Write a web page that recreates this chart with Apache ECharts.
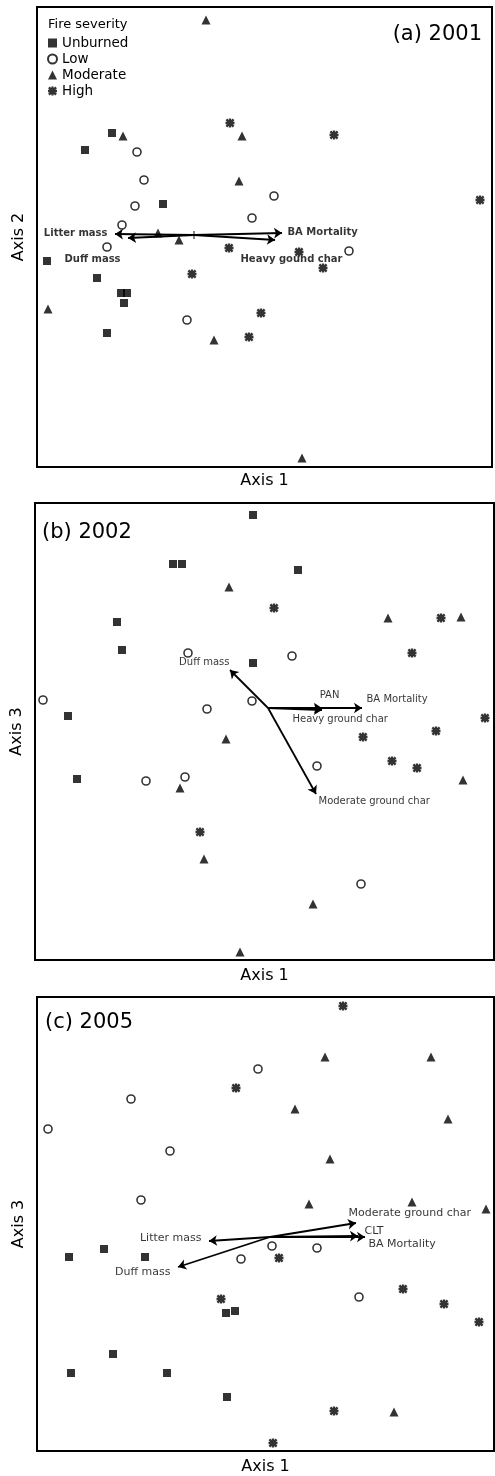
<!DOCTYPE html>
<html><head><meta charset="utf-8">
<script src="https://cdn.jsdelivr.net/npm/echarts@6/dist/echarts.min.js"></script>
<style>html,body{margin:0;padding:0;background:#fff}#c{width:495px;height:1476px}</style>
</head><body><div id="c"></div>
<script>
// ---------- data (ordination scores, arbitrary units) ----------
const severities = ['Unburned', 'Low', 'Moderate', 'High'];

// (a) 2001 : Axis 1 vs Axis 2
const unburned2001 = [[-0.82,1.02],[-1.09,0.85],[-0.31,0.31],[-1.47,-0.26],[-0.97,-0.43],[-0.73,-0.58],[-0.67,-0.58],[-0.70,-0.68],[-0.87,-0.98]];
const low2001 = [[-0.57,0.83],[-0.50,0.55],[0.80,0.39],[-0.59,0.29],[0.58,0.17],[-0.72,0.10],[-0.87,-0.12],[1.55,-0.16],[-0.07,-0.85]];
const moderate2001 = [[0.12,2.15],[-0.71,0.99],[0.48,0.99],[0.45,0.54],[-0.36,0.02],[-0.15,-0.05],[-1.46,-0.74],[0.20,-1.05],[1.08,-2.23]];
const high2001 = [[0.36,1.12],[1.40,1.00],[2.86,0.35],[0.35,-0.13],[1.05,-0.17],[1.29,-0.33],[-0.02,-0.39],[0.67,-0.78],[0.55,-1.02]];
const loadNames2001 = ['Litter mass','Duff mass','BA Mortality','Heavy gound char'];
const loadings2001 = [[-0.79,0.01],[-0.66,-0.03],[0.88,0.02],[0.81,-0.05]];
const origin2001 = [[0,0]];

// (b) 2002 : Axis 1 vs Axis 3
const unburned2002 = [[-0.15,1.93],[-0.95,1.44],[-0.86,1.44],[0.30,1.38],[-1.51,0.86],[-1.46,0.58],[-0.15,0.45],[-2.00,-0.08],[-1.91,-0.71]];
const low2002 = [[-0.80,0.55],[0.24,0.52],[-2.25,0.08],[-0.16,0.07],[-0.61,-0.01],[0.49,-0.58],[-1.22,-0.73],[-0.83,-0.69],[0.93,-1.76]];
const moderate2002 = [[-0.39,1.21],[1.20,0.90],[1.93,0.91],[-0.42,-0.31],[-0.88,-0.80],[1.95,-0.72],[-0.64,-1.51],[0.45,-1.96],[-0.28,-2.44]];
const high2002 = [[0.06,1.00],[1.73,0.90],[1.44,0.55],[2.17,-0.10],[1.68,-0.23],[0.95,-0.29],[1.24,-0.53],[1.49,-0.60],[-0.68,-1.24]];
const loadNames2002 = ['Duff mass','PAN','Heavy ground char','BA Mortality','Moderate ground char'];
const loadings2002 = [[-0.38,0.38],[0.54,0.00],[0.54,-0.02],[0.94,0.00],[0.48,-0.86]];

// (c) 2005 : Axis 1 vs Axis 3
const unburned2005 = [[-2.01,-0.20],[-1.66,-0.12],[-1.25,-0.20],[-0.44,-0.76],[-0.35,-0.74],[-1.57,-1.17],[-1.99,-1.36],[-1.03,-1.36],[-0.43,-1.60]];
const low2005 = [[-0.12,1.68],[-1.39,1.38],[-2.22,1.08],[-1.00,0.86],[-1.29,0.37],[0.02,-0.09],[0.47,-0.11],[-0.29,-0.22],[0.89,-0.60]];
const moderate2005 = [[0.55,1.80],[1.61,1.80],[0.25,1.28],[1.78,1.18],[0.60,0.78],[0.39,0.33],[1.42,0.35],[2.16,0.28],[1.24,-1.75]];
const high2005 = [[0.73,2.31],[-0.34,1.49],[0.09,-0.21],[1.33,-0.52],[-0.49,-0.62],[1.74,-0.67],[2.09,-0.85],[0.64,-1.74],[0.03,-2.06]];
const loadNames2005 = ['Moderate ground char','CLT','BA Mortality','Litter mass','Duff mass'];
const loadings2005 = [[0.86,0.14],[0.88,0.01],[0.95,0.00],[-0.61,-0.04],[-0.92,-0.30]];

const panelTitles = ['(a) 2001','(b) 2002','(c) 2005'];
const yAxisNames = ['Axis 2','Axis 3','Axis 3'];
const xAxisName = 'Axis 1';
const legendTitle = 'Fire severity';

// ---------- layout / style ----------
const FONT = '"DejaVu Sans", Arial, sans-serif';
const grids = [
  {left:37, top:7,   width:455, height:460},
  {left:35, top:503, width:459, height:457},
  {left:37, top:997, width:457, height:454}
];
const ranges = [
  {x:[-1.57,2.98], y:[-2.32,2.28]},
  {x:[-2.33,2.26], y:[-2.52,2.05]},
  {x:[-2.33,2.24], y:[-2.14,2.40]}
];
const xNameGap = [6, 8, 8];
const starPath = 'path://M3.7,0 L6.3,0 L6.3,10 L3.7,10 Z M0,3.7 L10,3.7 L10,6.3 L0,6.3 Z M1.9,0.1 L9.9,8.1 L8.1,9.9 L0.1,1.9 Z M8.1,0.1 L9.9,1.9 L1.9,9.9 L0.1,8.1 Z';
const sevStyle = {
  Unburned: {symbol:'rect', symbolSize:8, itemStyle:{color:'#000'}},
  Low:      {symbol:'circle', symbolSize:8, itemStyle:{color:'#fff', borderColor:'#000', borderWidth:1.6}},
  Moderate: {symbol:'triangle', symbolSize:9, itemStyle:{color:'#000'}},
  High:     {symbol:starPath, symbolSize:9, itemStyle:{color:'#000'}}
};
const labelLayouts = [
  [{align:'right',dx:-7,dy:0},{align:'left',dx:-63,dy:22},{align:'left',dx:6,dy:0},{align:'left',dx:-34,dy:20}],
  [{align:'right',dx:0,dy:-7},{align:'center',dx:8,dy:-12},{align:'left',dx:-29,dy:10},{align:'left',dx:5,dy:-8},{align:'left',dx:3,dy:8}],
  [{align:'left',dx:-7,dy:-9},{align:'left',dx:7,dy:-4},{align:'left',dx:4,dy:8},{align:'right',dx:-7,dy:-2},{align:'right',dx:-7,dy:6}]
];
const labelFont = [
  {fontSize:10, fontWeight:'bold'},
  {fontSize:10, fontWeight:'normal'},
  {fontSize:11, fontWeight:'normal'}
];
const arrowWidth = [2.2, 1.8, 1.8];

const panelData = [
  [unburned2001, low2001, moderate2001, high2001],
  [unburned2002, low2002, moderate2002, high2002],
  [unburned2005, low2005, moderate2005, high2005]
];
const panelLoadings = [loadings2001, loadings2002, loadings2005];
const panelLoadNames = [loadNames2001, loadNames2002, loadNames2005];

const series = [];
panelData.forEach((sets, p) => {
  // loading arrows
  series.push({
    type:'lines', coordinateSystem:'cartesian2d', xAxisIndex:p, yAxisIndex:p,
    symbol:['none','arrow'], symbolSize:8, silent:true, z:3,
    lineStyle:{color:'#000', width:arrowWidth[p], opacity:1},
    data: panelLoadings[p].map(v => ({coords:[[0,0], v]}))
  });
  // loading labels
  series.push({
    type:'scatter', xAxisIndex:p, yAxisIndex:p, symbolSize:1, silent:true, z:4,
    itemStyle:{color:'rgba(0,0,0,0)'},
    data: panelLoadings[p].map((v,i) => ({
      value:v, name:panelLoadNames[p][i],
      label:{show:true, formatter:panelLoadNames[p][i], position:[labelLayouts[p][i].dx, labelLayouts[p][i].dy],
             align:labelLayouts[p][i].align, verticalAlign:'middle', color:'#000', fontFamily:FONT,
             fontSize:labelFont[p].fontSize, fontWeight:labelFont[p].fontWeight}
    }))
  });
  // points
  sets.forEach((pts, s) => {
    const name = severities[s];
    series.push(Object.assign({
      type:'scatter', name, xAxisIndex:p, yAxisIndex:p, data:pts, z:5
    }, JSON.parse(JSON.stringify(sevStyle[name]))));
  });
});
// origin tick in panel (a)
series.push({type:'scatter', xAxisIndex:0, yAxisIndex:0, data:origin2001, symbol:'rect', symbolSize:[1.2,8], itemStyle:{color:'#000'}, silent:true, z:4});

const option = {
  animation:false,
  backgroundColor:'#fff',
  title: [
    {text:legendTitle, left:48, top:18, padding:0, textStyle:{fontFamily:FONT, fontSize:13, fontWeight:'normal', color:'#000'}},
    {text:panelTitles[0], right:13, top:24, padding:0, textStyle:{fontFamily:FONT, fontSize:21, fontWeight:'normal', color:'#000'}},
    {text:panelTitles[1], left:42, top:522, padding:0, textStyle:{fontFamily:FONT, fontSize:21, fontWeight:'normal', color:'#000'}},
    {text:panelTitles[2], left:45, top:1012, padding:0, textStyle:{fontFamily:FONT, fontSize:21, fontWeight:'normal', color:'#000'}}
  ],
  legend: {
    data: severities, orient:'vertical', left:47, top:36, padding:0,
    itemWidth:9, itemHeight:9, itemGap:2, itemTextGap:8, selectedMode:false,
    textStyle:{fontFamily:FONT, fontSize:13.5, color:'#000', lineHeight:14}
  },
  grid: grids.map(g => Object.assign({show:true, borderColor:'#000', borderWidth:2, backgroundColor:'transparent', containLabel:false}, g)),
  xAxis: ranges.map((r,i) => ({
    type:'value', gridIndex:i, min:r.x[0], max:r.x[1],
    name:xAxisName, nameLocation:'middle', nameGap:xNameGap[i],
    nameTextStyle:{fontFamily:FONT, fontSize:16, color:'#000', verticalAlign:'top'},
    axisLine:{show:false}, axisTick:{show:false}, axisLabel:{show:false}, splitLine:{show:false}
  })),
  yAxis: ranges.map((r,i) => ({
    type:'value', gridIndex:i, min:r.y[0], max:r.y[1],
    name:yAxisNames[i], nameLocation:'middle', nameGap:10,
    nameTextStyle:{fontFamily:FONT, fontSize:16, color:'#000'},
    axisLine:{show:false}, axisTick:{show:false}, axisLabel:{show:false}, splitLine:{show:false}
  })),
  series
};
const chart = echarts.init(document.getElementById('c'), null, {renderer:'canvas'});
chart.setOption(option);
</script></body></html>
